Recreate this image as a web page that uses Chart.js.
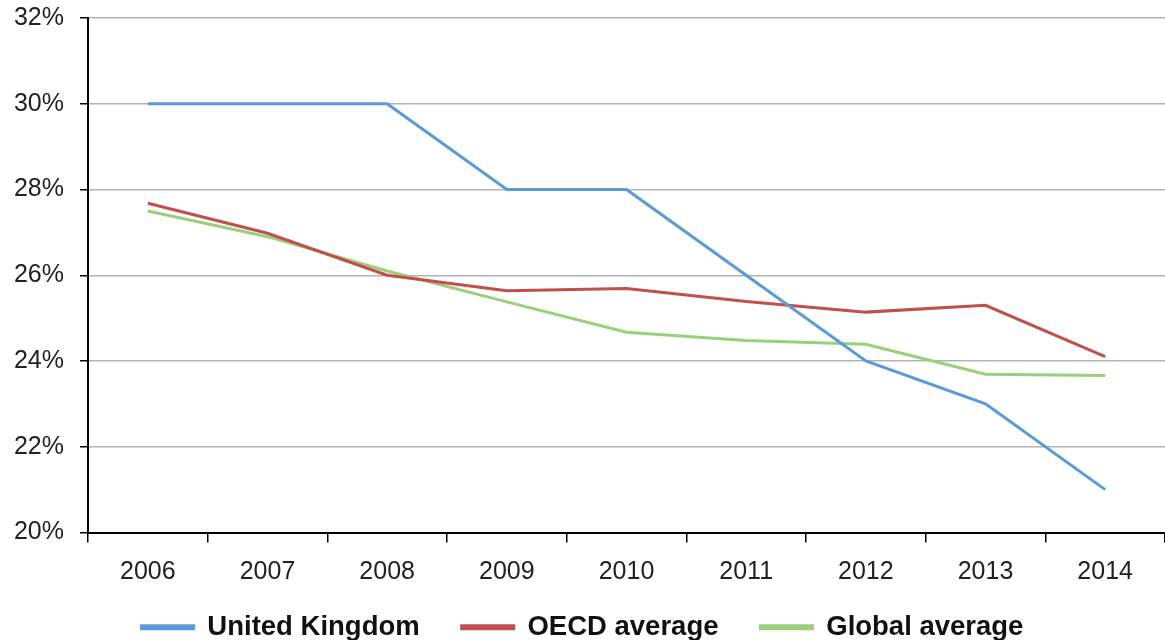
<!DOCTYPE html>
<html>
<head>
<meta charset="utf-8">
<script src="https://cdn.jsdelivr.net/npm/chart.js@4"></script>
<style>
html,body{margin:0;padding:0;background:#fff;}
#wrap{width:1165px;height:640px;position:relative;}
</style>
</head>
<body>
<div id="wrap"><canvas id="c"></canvas></div>
<script>
const years = ['2006','2007','2008','2009','2010','2011','2012','2013','2014'];
const ukValues = [30, 30, 30, 28, 28, 26, 24, 23, 21];
const oecdValues = [27.68, 26.98, 26.0, 25.64, 25.69, 25.39, 25.14, 25.3, 24.1];
const globalValues = [27.5, 26.9, 26.1, 25.38, 24.67, 24.48, 24.39, 23.69, 23.66];
const seriesNames = ['United Kingdom', 'OECD average', 'Global average'];
const seriesColors = ['#5b9bd5', '#c0504d', '#9bcf7d'];

const fontFam = '"Liberation Sans", Arial, Helvetica, sans-serif';
const mk = (i, data) => ({
  label: seriesNames[i], data,
  borderColor: seriesColors[i], backgroundColor: seriesColors[i],
  borderWidth: 3, pointRadius: 0, tension: 0, fill: false
});

// move the legend up so it sits closer to the axis labels
const legendShift = {
  id: 'legendShift',
  afterLayout(chart) {
    const lg = chart.legend;
    if (lg) { lg.top -= 31; lg.bottom -= 31; }
  }
};

new Chart(document.getElementById('c'), {
  type: 'line',
  data: { labels: years, datasets: [mk(0, ukValues), mk(1, oecdValues), mk(2, globalValues)] },
  plugins: [legendShift],
  options: {
    responsive: true, maintainAspectRatio: false, animation: false,
    layout: { padding: { left: 0, top: 0, right: 0, bottom: -42 } },
    plugins: {
      tooltip: { enabled: false },
      legend: {
        position: 'bottom',
        labels: {
          color: '#111', font: { family: fontFam, size: 27.5, weight: 'bold' },
          boxWidth: 52, boxHeight: 3, padding: 42
        }
      }
    },
    scales: {
      x: {
        offset: true,
        grid: { drawOnChartArea: false, drawTicks: true, tickLength: 10, tickColor: '#000', lineWidth: 1.5, offset: true },
        border: { color: '#000', width: 2 },
        ticks: { color: '#222', font: { family: fontFam, size: 25 }, padding: 15, maxRotation: 0 }
      },
      y: {
        min: 20, max: 32,
        afterFit: s => { s.width = 88; s.paddingTop = 18; },
        grid: { color: '#b3b3b3', lineWidth: 1.5, tickLength: 8, tickColor: '#000' },
        border: { color: '#000', width: 2 },
        ticks: { stepSize: 2, color: '#222', font: { family: fontFam, size: 25 }, padding: 16,
          callback: v => v + '%' }
      }
    }
  }
});
</script>
</body>
</html>
